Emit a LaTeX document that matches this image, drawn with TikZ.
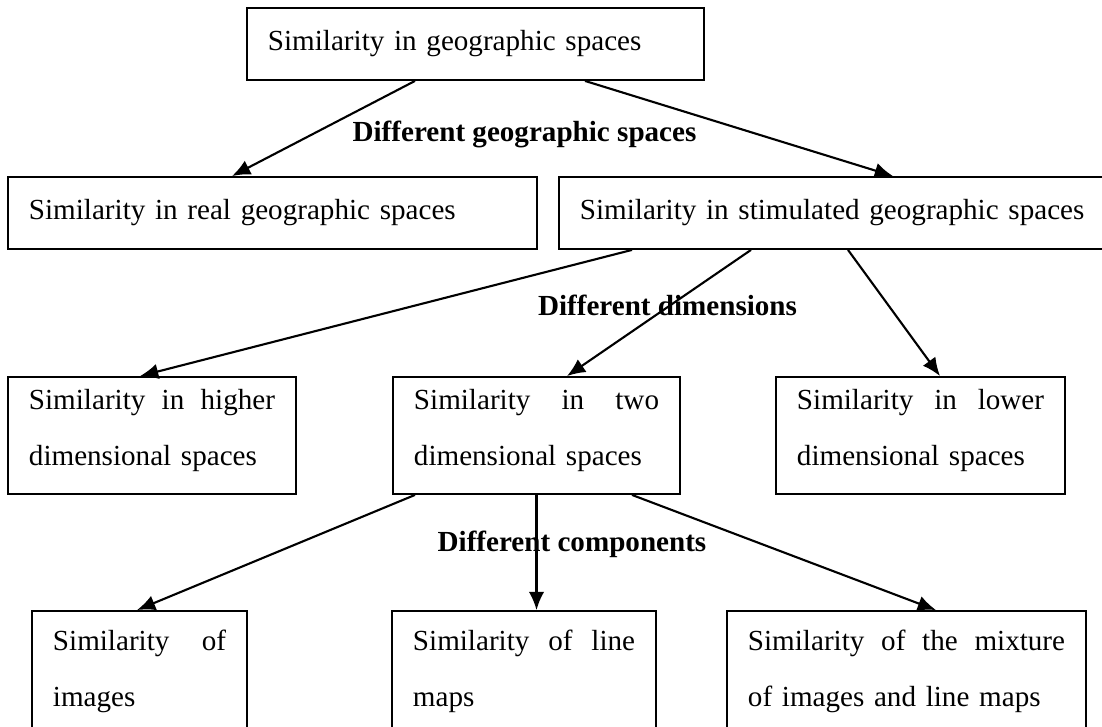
\documentclass[tikz,border=0pt]{standalone}
\usepackage{fontspec}
\setmainfont{Liberation Serif}
\usepackage{tikz}
\usetikzlibrary{arrows.meta,calc}
\newcommand{\lowpad}{\rule[-0.4cm]{0pt}{0pt}}

\begin{document}
\begin{tikzpicture}[
    x=0.025cm, y=-0.025cm,
    box/.style={rectangle, draw, line width=1.3pt, inner xsep=0.525cm, inner ysep=0pt, align=left, font=\fontsize{20.7}{39.7}\selectfont},
    heading/.style={font=\fontsize{20.7}{24}\selectfont\bfseries, anchor=base},
    arrow/.style={-{Latex[length=13pt,width=11pt]}, line width=1.5pt}
]
\useasboundingbox (0,0) rectangle (1102,727);
\clip (0,0) rectangle (1102,727);

\node[box, minimum width=11.425cm, minimum height=1.8cm, text width=10.375cm] (geo) at (475.5,44) {Similarity in geographic spaces};

\node[box, minimum width=13.225cm, minimum height=1.8cm, text width=12.175cm] (real) at (272.5,213) {Similarity in real geographic spaces};
\node[box, minimum width=13.775cm, minimum height=1.8cm, text width=12.725cm] (stim) at (834.5,213) {Similarity in stimulated geographic spaces};

\node[box, minimum width=7.2cm, minimum height=2.925cm, text width=6.15cm] (high) at (152,435.5) {Similarity\hfill in\hfill higher\\dimensional spaces\lowpad};
\node[box, minimum width=7.175cm, minimum height=2.925cm, text width=6.125cm] (two) at (536.5,435.5) {Similarity\hfill in\hfill two\\dimensional spaces\lowpad};
\node[box, minimum width=7.225cm, minimum height=2.925cm, text width=6.175cm] (low) at (920.5,435.5) {Similarity\hfill in\hfill lower\\dimensional spaces\lowpad};

\node[box, minimum width=5.375cm, minimum height=3cm, text width=4.325cm] (img) at (139.5,671) {Similarity\hfill of\\images};
\node[box, minimum width=6.6cm, minimum height=3cm, text width=5.55cm] (lines) at (524,671) {Similarity\hfill of\hfill line\\maps};
\node[box, minimum width=8.975cm, minimum height=3cm, text width=7.925cm] (mix) at (906.5,671) {Similarity\hfill of\hfill the\hfill mixture\\of images and line maps};

\node[heading] (lgeo) at (524.5,142) {Different geographic spaces};
\node[heading] (ldim) at (667.5,316) {Different dimensions};
\node[heading] (lcomp) at (572,551) {Different components};

\foreach \a/\da/\b/\db in {geo/-60.5/real/-40.5, geo/109.5/stim/58.5, stim/-202.5/high/-12, stim/-83.5/two/30.5, stim/13.5/low/19.5, two/-121.5/img/-2.5, two/95.5/mix/29.5}
    \draw[arrow] ($(\a.south)+(\da,0)$) -- ($(\b.north)+(\db,0)$);
\draw[arrow] (two.south) -- (two.south |- lines.north);
\end{tikzpicture}
\end{document}
